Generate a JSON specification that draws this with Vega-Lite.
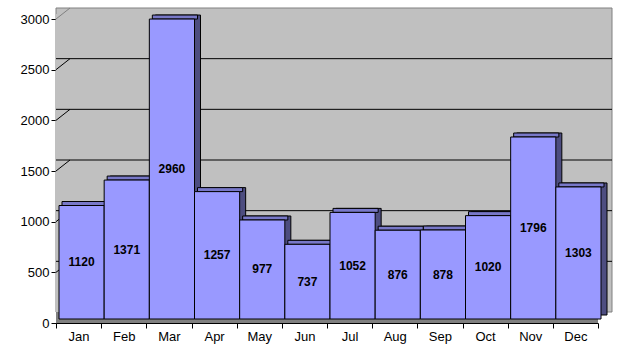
{
  "$schema": "https://vega.github.io/schema/vega-lite/v6.json",
  "width": 542,
  "height": 304,
  "autosize": {"type": "none"},
  "padding": {"left": 56, "top": 19, "right": 32, "bottom": 33},
  "background": "white",
  "config": {
    "view": {"stroke": null},
    "font": "Liberation Sans",
    "axis": {"labelColor": "black", "domainColor": "black", "tickColor": "black", "title": null, "grid": false, "labelFont": "Liberation Sans", "labelFontSize": 13}
  },
  "datasets": {
    "sales": [
      {"month": "Jan", "value": 1120},
      {"month": "Feb", "value": 1371},
      {"month": "Mar", "value": 2960},
      {"month": "Apr", "value": 1257},
      {"month": "May", "value": 977},
      {"month": "Jun", "value": 737},
      {"month": "Jul", "value": 1052},
      {"month": "Aug", "value": 876},
      {"month": "Sep", "value": 878},
      {"month": "Oct", "value": 1020},
      {"month": "Nov", "value": 1796},
      {"month": "Dec", "value": 1303}
    ],
    "grid": [{"v": 500}, {"v": 1000}, {"v": 1500}, {"v": 2000}, {"v": 2500}],
    "one": [{"k": 1}]
  },
  "data": {"name": "sales"},
  "layer": [
    {
      "layer": [
        {
          "data": {"name": "one"},
          "mark": {"type": "rect", "fill": "#C0C0C0", "stroke": "#808080", "strokeWidth": 1, "xOffset": 14, "x2Offset": 14, "yOffset": -11, "y2Offset": -11},
          "encoding": {
            "y": {"datum": 3000, "type": "quantitative", "scale": {"domain": [0, 3000]}},
            "y2": {"datum": 0}
          }
        },
        {
          "data": {"name": "one"},
          "mark": {"type": "rect", "fill": "#C0C0C0", "stroke": null, "x2Offset": 14, "yOffset": -5, "y2Offset": -6},
          "encoding": {
            "x": {"datum": "Jan", "bandPosition": 0},
            "x2": {"datum": "Jan", "bandPosition": 0},
            "y": {"datum": 3000, "type": "quantitative", "scale": {"domain": [0, 3000]}},
            "y2": {"datum": 0}
          }
        },
        {
          "data": {"name": "one"},
          "mark": {"type": "rect", "fill": "#808080", "stroke": null, "x2Offset": 8, "yOffset": -11, "y2Offset": 0},
          "encoding": {
            "y": {"datum": 0, "type": "quantitative", "scale": {"domain": [0, 3000]}},
            "y2": {"datum": 0}
          }
        },
        {
          "data": {"name": "grid"},
          "mark": {"type": "rule", "color": "black", "strokeWidth": 1, "xOffset": 14, "x2Offset": 14, "yOffset": -11},
          "encoding": {
            "y": {"field": "v", "type": "quantitative", "scale": {"domain": [0, 3000]}}
          }
        },
        {
          "data": {"name": "grid"},
          "mark": {"type": "rule", "color": "black", "strokeWidth": 1, "x2Offset": 14, "y2Offset": -11},
          "encoding": {
            "x": {"datum": "Jan", "bandPosition": 0},
            "x2": {"datum": "Jan", "bandPosition": 0},
            "y": {"field": "v", "type": "quantitative", "scale": {"domain": [0, 3000]}},
            "y2": {"field": "v"}
          }
        },
        {
          "data": {"name": "one"},
          "mark": {"type": "rule", "color": "#808080", "strokeWidth": 1, "x2Offset": 14, "y2Offset": -11},
          "encoding": {
            "x": {"datum": "Jan", "bandPosition": 0},
            "x2": {"datum": "Jan", "bandPosition": 0},
            "y": {"datum": 3000, "type": "quantitative", "scale": {"domain": [0, 3000]}},
            "y2": {"datum": 3000}
          }
        },
        {
          "mark": {"type": "bar", "fill": "#4D4D80", "stroke": "black", "strokeWidth": 1, "xOffset": 9, "yOffset": -8, "y2Offset": -8},
          "encoding": {
            "x": {"field": "month", "type": "nominal", "sort": null, "scale": {"paddingInner": 0, "paddingOuter": 0},
              "axis": {"labelAngle": 0, "tickSize": 5, "tickBand": "extent", "bandPosition": 0.5, "labelAlign": "center", "labelPadding": 8}},
            "y": {"field": "value", "type": "quantitative", "scale": {"domain": [0, 3000]},
              "axis": {"values": [0, 500, 1000, 1500, 2000, 2500, 3000], "format": "d", "tickSize": 5, "labelPadding": 2}}
          }
        },
        {
          "mark": {"type": "bar", "fill": "#7878C8", "stroke": "black", "strokeWidth": 1, "xOffset": 6, "yOffset": -8, "y2Offset": -4},
          "encoding": {
            "x": {"field": "month", "type": "nominal", "sort": null},
            "y": {"field": "value", "type": "quantitative"},
            "y2": {"field": "value"}
          }
        },
        {
          "mark": {"type": "bar", "fill": "#9999FF", "stroke": "black", "strokeWidth": 1, "xOffset": 3, "yOffset": -4, "y2Offset": -4},
          "encoding": {
            "x": {"field": "month", "type": "nominal", "sort": null},
            "y": {"field": "value", "type": "quantitative"}
          }
        }
      ]
    },
    {
      "mark": {"type": "text", "fontWeight": "bold", "fontSize": 12, "color": "black", "baseline": "middle", "xOffset": 3, "yOffset": -4},
      "encoding": {
        "x": {"field": "month", "type": "nominal", "sort": null},
        "y": {"field": "value", "type": "quantitative", "scale": {"domain": [0, 6000]}, "axis": null},
        "text": {"field": "value", "type": "quantitative"}
      }
    }
  ],
  "resolve": {"scale": {"y": "independent"}}
}
